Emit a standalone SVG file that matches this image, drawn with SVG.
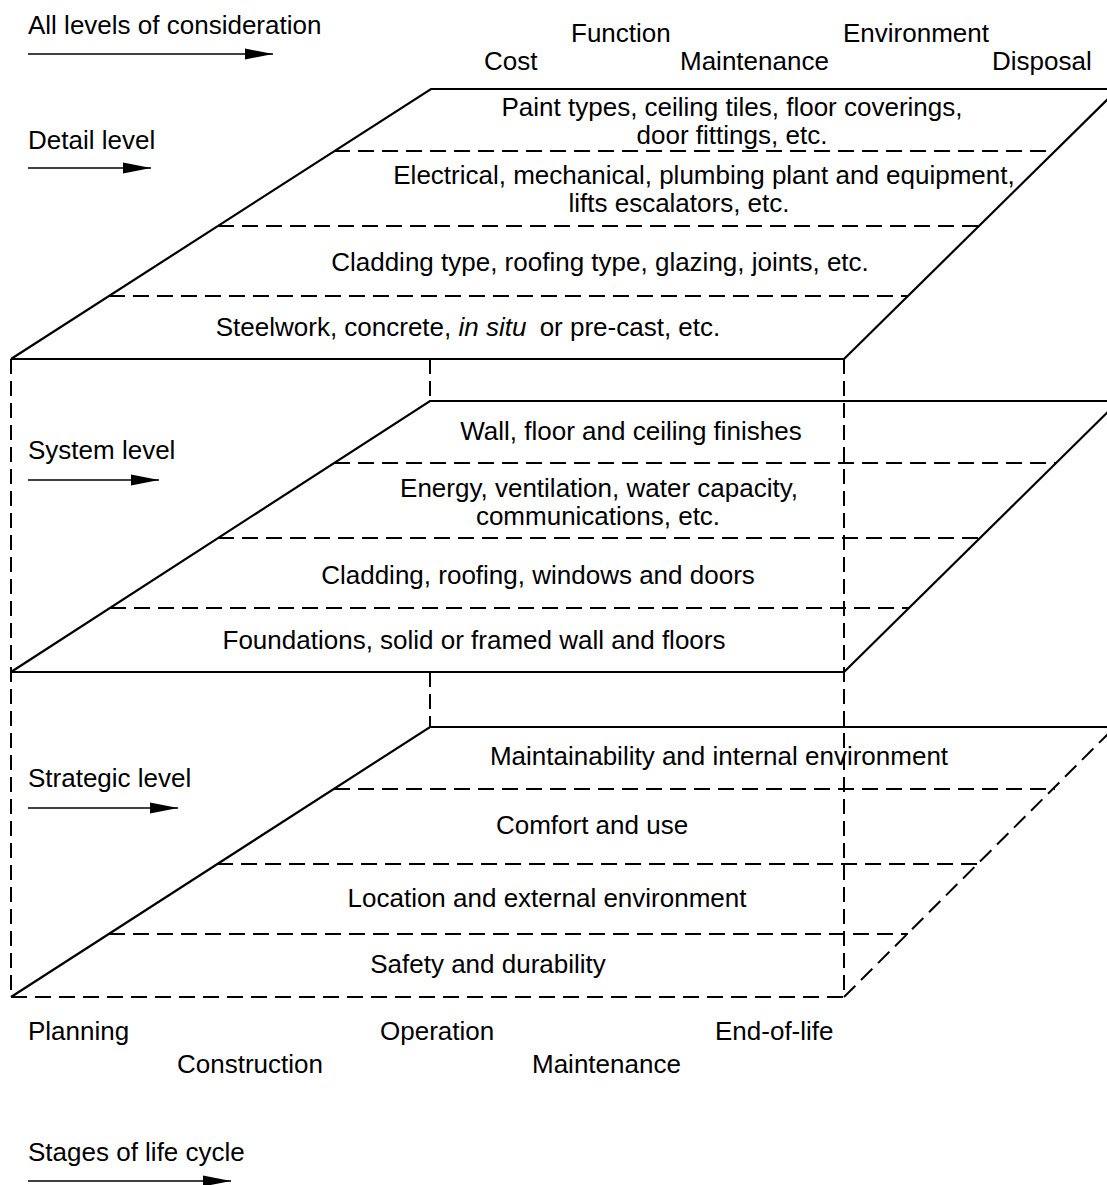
<svg xmlns="http://www.w3.org/2000/svg" width="1107" height="1185" viewBox="0 0 1107 1185">
<defs>
<marker id="ah" markerUnits="userSpaceOnUse" markerWidth="28" markerHeight="12" refX="28" refY="6" orient="auto"><path d="M0,0.5 L28,6 L0,11.5 z" fill="#000"/></marker>
<style>
text{font-family:"Liberation Sans",Arial,sans-serif;font-size:26px;fill:#000}
.m{text-anchor:middle}
.s{fill:none;stroke:#000;stroke-width:2.2;stroke-linejoin:miter}
.d{fill:none;stroke:#000;stroke-width:2;stroke-dasharray:16 8}
.a{fill:none;stroke:#000;stroke-width:1.4;marker-end:url(#ah)}
</style>
</defs>
<rect width="1107" height="1185" fill="#fff"/>
<g id="connectors">
<!-- top slab -->
<polyline class="s" points="11,359 431,89 1107,89"/>
<line class="s" x1="844" y1="359" x2="1118" y2="89"/>
<line class="s" x1="11" y1="359" x2="844" y2="359"/>
<line class="d" x1="334" y1="151" x2="1055" y2="151"/>
<line class="d" x1="218" y1="226" x2="979" y2="226"/>
<line class="d" x1="109" y1="296" x2="908" y2="296"/>
<!-- verticals -->
<line class="d" x1="11" y1="359" x2="11" y2="997" style="stroke-dasharray:15 7"/>
<line class="d" x1="844" y1="359" x2="844" y2="997" style="stroke-dasharray:15 7"/>
<line class="d" x1="430" y1="359" x2="430" y2="401" style="stroke-dasharray:15 7"/>
<line class="d" x1="430" y1="672" x2="430" y2="727" style="stroke-dasharray:15 7"/>
<!-- middle slab -->
<polyline class="s" points="11,672 430,401 1107,401"/>
<line class="s" x1="844" y1="672" x2="1119" y2="401"/>
<line class="s" x1="11" y1="672" x2="844" y2="672"/>
<line class="d" x1="334" y1="463" x2="1056" y2="463"/>
<line class="d" x1="218" y1="538" x2="980" y2="538"/>
<line class="d" x1="110" y1="608" x2="909" y2="608"/>
<!-- bottom slab -->
<polyline class="s" points="11,997 430,727 1107,727"/>
<line class="d" x1="844" y1="997" x2="1115" y2="727"/>
<line class="d" x1="11" y1="997" x2="844" y2="997"/>
<line class="d" x1="334" y1="789" x2="1055" y2="789"/>
<line class="d" x1="217" y1="864" x2="979" y2="864"/>
<line class="d" x1="109" y1="934" x2="908" y2="934"/>
<!-- arrows -->
<line class="a" x1="28" y1="54" x2="273" y2="54"/>
<line class="a" x1="28" y1="168" x2="151" y2="168"/>
<line class="a" x1="28" y1="480" x2="159" y2="480"/>
<line class="a" x1="28" y1="808" x2="178" y2="808"/>
<line class="a" x1="28" y1="1181" x2="231" y2="1181"/>
</g>
<g id="header">
<text x="28" y="34">All levels of consideration</text>
<text x="571" y="42">Function</text>
<text x="843" y="42">Environment</text>
<text x="484" y="70">Cost</text>
<text x="680" y="70">Maintenance</text>
<text x="992" y="70">Disposal</text>
</g>
<g id="detail-level">
<text x="28" y="149">Detail level</text>
<text class="m" x="732" y="116">Paint types, ceiling tiles, floor coverings,</text>
<text class="m" x="732" y="144">door fittings, etc.</text>
<text class="m" x="704" y="184">Electrical, mechanical, plumbing plant and equipment,</text>
<text class="m" x="679" y="212">lifts escalators, etc.</text>
<text class="m" x="600" y="271">Cladding type, roofing type, glazing, joints, etc.</text>
<text class="m" x="468" y="336">Steelwork, concrete, <tspan font-style="italic">in situ</tspan> <tspan dx="6">or pre-cast, etc.</tspan></text>
</g>
<g id="system-level">
<text x="28" y="459">System level</text>
<text class="m" x="631" y="440">Wall, floor and ceiling finishes</text>
<text class="m" x="599" y="497">Energy, ventilation, water capacity,</text>
<text class="m" x="598" y="525">communications, etc.</text>
<text class="m" x="538" y="584">Cladding, roofing, windows and doors</text>
<text class="m" x="474" y="649">Foundations, solid or framed wall and floors</text>
</g>
<g id="strategic-level">
<text x="28" y="787">Strategic level</text>
<text class="m" x="719" y="765">Maintainability and internal environment</text>
<text class="m" x="592" y="834">Comfort and use</text>
<text class="m" x="547" y="907">Location and external environment</text>
<text class="m" x="488" y="973">Safety and durability</text>
</g>
<g id="life-cycle">
<text x="28" y="1040">Planning</text>
<text x="177" y="1073">Construction</text>
<text x="380" y="1040">Operation</text>
<text x="532" y="1073">Maintenance</text>
<text x="715" y="1040">End-of-life</text>
<text x="28" y="1161">Stages of life cycle</text>
</g>
</svg>
